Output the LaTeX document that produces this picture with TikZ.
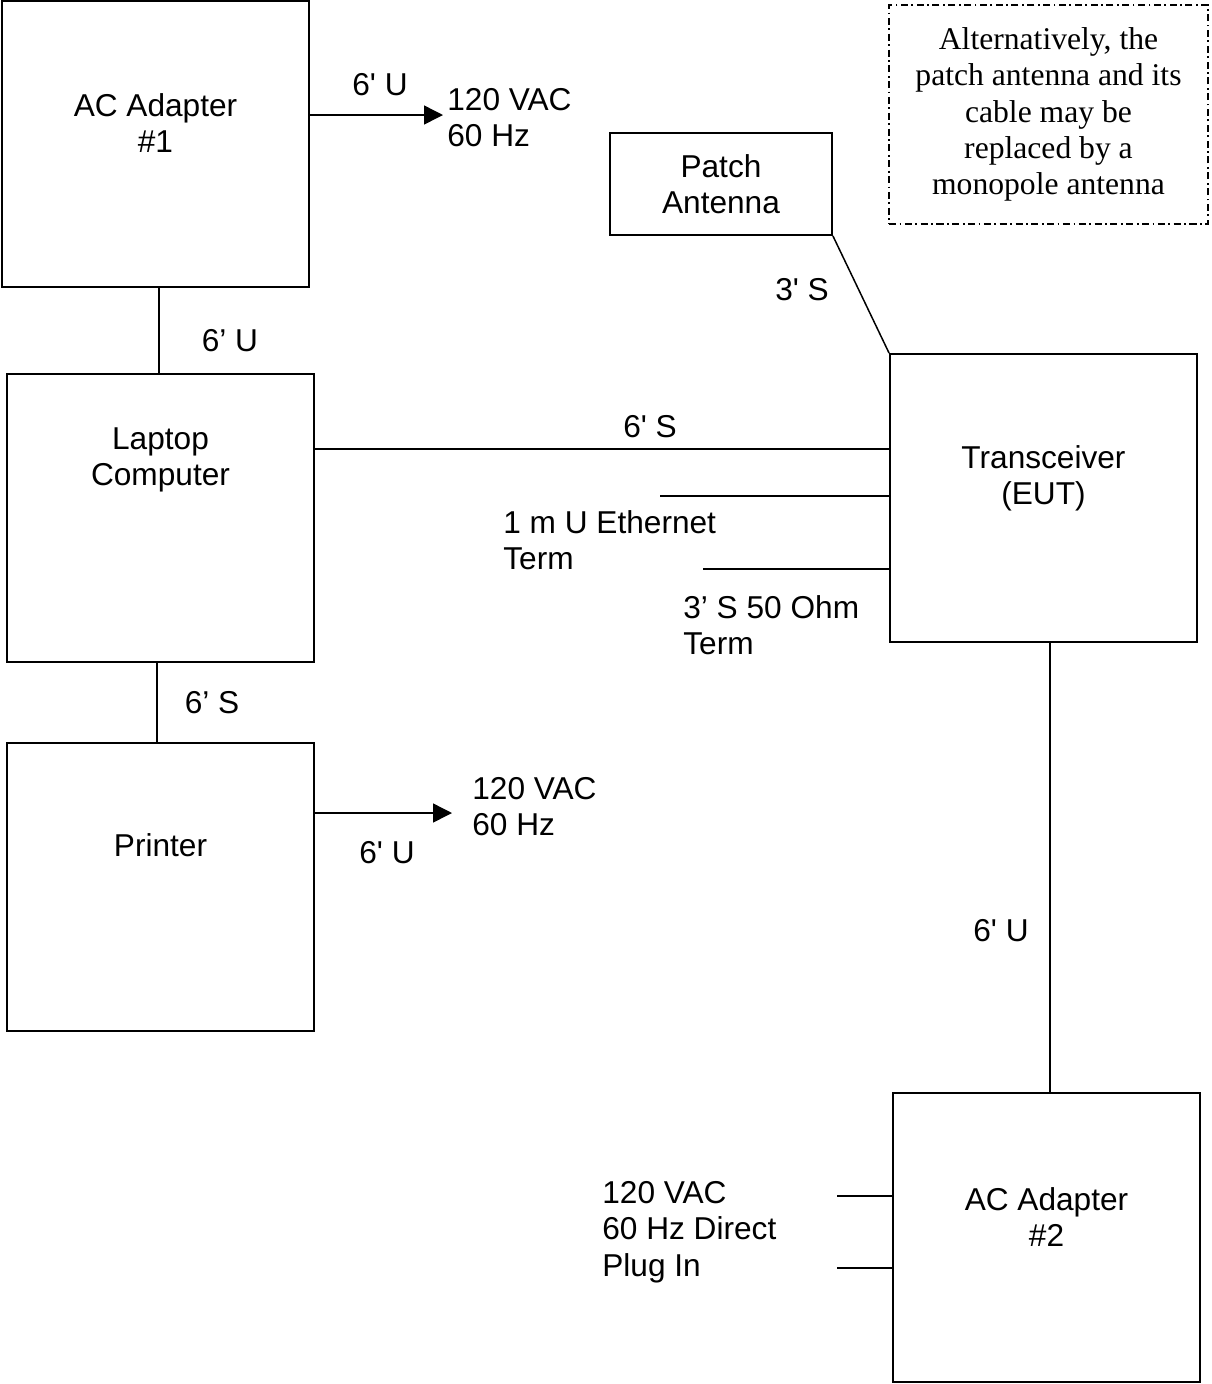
\documentclass[tikz,border=0pt]{standalone}
\usepackage{fontspec}
\setmainfont{Liberation Sans}
\newfontfamily\timesfont{Liberation Serif}
\usetikzlibrary{positioning,arrows.meta}

\begin{document}
\begin{tikzpicture}[
			x=0.02cm, y=-0.02cm,
			font=\fontsize{18}{20.7}\selectfont,
			unit/.style={rectangle,draw,line width=1.1pt,minimum width=6.14cm,minimum height=5.76cm},
			unittext/.style={align=center,inner sep=0pt},
			cable/.style={line width=0.85pt},
			feed/.style={cable,-{Triangle[length=0.38cm,width=0.38cm]}},
			cablelbl/.style={inner sep=0pt,anchor=base},
			farend/.style={align=left,inner sep=0pt,anchor=north west},
			]
			\useasboundingbox (0,0) rectangle (1212,1384);
			% equipment
			\node [unit,minimum height=5.72cm] (ac1) at (155.5,144) {};
			\node [unit] (laptop) at (160.5,518) {};
			\node [unit] (printer) at (160.5,887) {};
			\node [unit] (eut) at (1043.5,498) {};
			\node [unit,minimum height=5.78cm] (ac2) at (1046.5,1237.5) {};
			\node [rectangle,draw,line width=1.1pt,minimum width=4.44cm,minimum height=2.04cm,align=center] (patch) at (721,184) {Patch\\ Antenna};
			\node [unittext,below=1.86cm of ac1.north] (ac1txt) {AC Adapter\\ \#1};
			\node [unittext,below=1.08cm of laptop.north] (laptoptxt) {Laptop\\ Computer};
			\node [unittext,below=1.82cm of printer.north] (printertxt) {Printer};
			\node [unittext,below=1.84cm of eut.north] (euttxt) {Transceiver\\ (EUT)};
			\node [unittext,below=1.90cm of ac2.north] (ac2txt) {AC Adapter\\ \#2};
			\node [draw,line width=0.8pt,dash pattern=on 4pt off 2pt on 1pt off 2pt,minimum width=6.38cm,minimum height=4.38cm,align=center,font=\timesfont\fontsize{18}{20.7}\selectfont] (altnote) at (1048.5,114.5) {Alternatively, the\\ patch antenna and its\\ cable may be\\ replaced by a\\ monopole antenna};
			% far ends
			\node [farend] (mains1) at (447,88) {120 VAC\\ 60 Hz};
			\node [farend] (mains2) at (472,777) {120 VAC\\ 60 Hz};
			\node [farend] (ethlbl) at (503,510) {1 m U Ethernet\\ Term};
			\node [farend] (termlbl) at (683,595) {3’ S 50 Ohm\\ Term};
			\node [farend] (pluglbl) at (602,1181) {120 VAC\\ 60 Hz Direct\\ Plug In};
			\coordinate (outlet1) at (443,115);
			\coordinate (outlet2) at (452,813);
			\coordinate (ethend) at (660,496);
			\coordinate (termend) at (703,569);
			\coordinate (plugA) at (837,1196);
			\coordinate (plugB) at (837,1268);
			% cables
			\draw[feed] (ac1.east |- outlet1) -- (outlet1);
			\draw[feed] (printer.east |- outlet2) -- (outlet2);
			\draw[cable] ([xshift=-0.03cm]laptop.north |- ac1.south) -- ([xshift=-0.03cm]laptop.north);
			\draw[cable] ([xshift=-0.07cm]laptop.south) -- ([xshift=-0.07cm]printer.north);
			\draw[cable] ([yshift=1.38cm]laptop.east) -- ([yshift=1.38cm]laptop.east -| eut.west);
			\draw[cable] (patch.south east) -- (eut.north west);
			\draw[cable] ([xshift=0.07cm]ac2.north |- eut.south) -- ([xshift=0.07cm]ac2.north);
			\draw[cable] (ethend) -- (ethend -| eut.west);
			\draw[cable] (termend) -- (termend -| eut.west);
			\draw[cable] (plugA) -- (plugA -| ac2.west);
			\draw[cable] (plugB) -- (plugB -| ac2.west);
			% cable labels
			\node [cablelbl] (c1) at (380,95) {6\textquotesingle{} U};
			\node [cablelbl] (c2) at (230,351) {6’ U};
			\node [cablelbl] (c3) at (650,437) {6\textquotesingle{} S};
			\node [cablelbl] (c4) at (802,300) {3\textquotesingle{} S};
			\node [cablelbl] (c5) at (212,713) {6’ S};
			\node [cablelbl] (c6) at (387,863) {6\textquotesingle{} U};
			\node [cablelbl] (c7) at (1001,941) {6\textquotesingle{} U};
		\end{tikzpicture}
\end{document}
